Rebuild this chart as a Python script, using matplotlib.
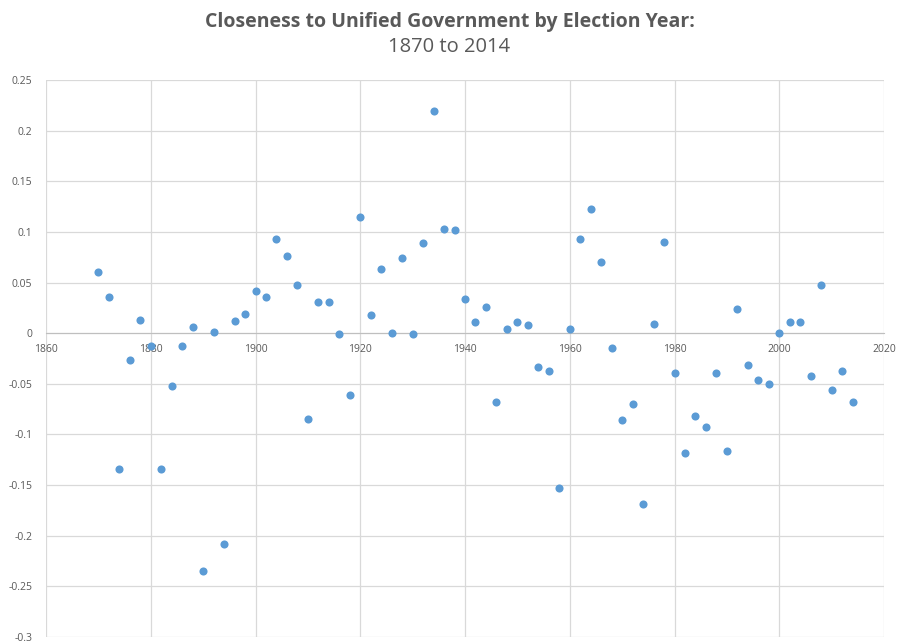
import matplotlib
matplotlib.use("Agg")
import matplotlib.pyplot as plt
import numpy as np

years = list(range(1870, 2015, 2))
values = [0.060, 0.036, -0.134, -0.026, 0.013, -0.013, -0.134, -0.052, -0.013, 0.006,
          -0.235, 0.001, -0.208, 0.012, 0.019, 0.042, 0.036, 0.093, 0.076, 0.048,
          -0.085, 0.031, 0.031, -0.001, -0.061, 0.115, 0.018, 0.063, 0.000, 0.074,
          -0.001, 0.089, 0.219, 0.103, 0.102, 0.034, 0.011, 0.026, -0.068, 0.004,
          0.011, 0.008, -0.033, -0.037, -0.153, 0.004, 0.093, 0.123, 0.070, -0.015,
          -0.086, -0.070, -0.169, 0.009, 0.090, -0.039, -0.118, -0.082, -0.093, -0.039,
          -0.116, 0.024, -0.031, -0.046, -0.050, 0.000, 0.011, 0.011, -0.042, 0.048,
          -0.056, -0.037, -0.068]
xticks = [1860, 1880, 1900, 1920, 1940, 1960, 1980, 2000, 2020]
yticks = [0.25, 0.2, 0.15, 0.1, 0.05, 0, -0.05, -0.1, -0.15, -0.2, -0.25, -0.3]
title_main = "Closeness to Unified Government by Election Year:"
title_sub = "1870 to 2014"

plt.rcParams['font.family'] = ['Open Sans', 'DejaVu Sans']

fig = plt.figure(figsize=(8.99, 6.44), dpi=100)
ax = fig.add_axes([46/899, 7/644, (884-46)/899, (637-80)/644])

grid_c = '#d9d9d9'
text_c = '#595959'

ax.scatter(years, values, s=34, color='#5B9BD5', zorder=3, linewidths=0)
ax.set_xlim(1860, 2020)
ax.set_ylim(-0.3, 0.25)
ax.set_xticks(xticks)
ax.set_yticks(yticks)
ax.set_xticklabels([str(t) for t in xticks])
ax.set_yticklabels([("%g" % t) for t in yticks])
ax.grid(True, color=grid_c, linewidth=0.9, zorder=0)
ax.set_axisbelow(True)

for s in ['top', 'right', 'left']:
    ax.spines[s].set_visible(False)
ax.spines['bottom'].set_position(('data', 0))
ax.spines['bottom'].set_color('#bfbfbf')
ax.spines['bottom'].set_zorder(1)
ax.tick_params(axis='both', length=0, labelsize=7.5, labelcolor=text_c)
ax.tick_params(axis='x', pad=8)
ax.tick_params(axis='y', pad=10)
for lbl in ax.get_xticklabels():
    lbl.set_zorder(2)

fig.text(0.5, 1 - 22/644, title_main, ha='center', va='center', fontsize=14,
         fontweight='bold', color=text_c)
fig.text(0.5, 1 - 47/644, title_sub, ha='center', va='center', fontsize=14.5,
         color=text_c)

fig.savefig('out.png', dpi=100)
